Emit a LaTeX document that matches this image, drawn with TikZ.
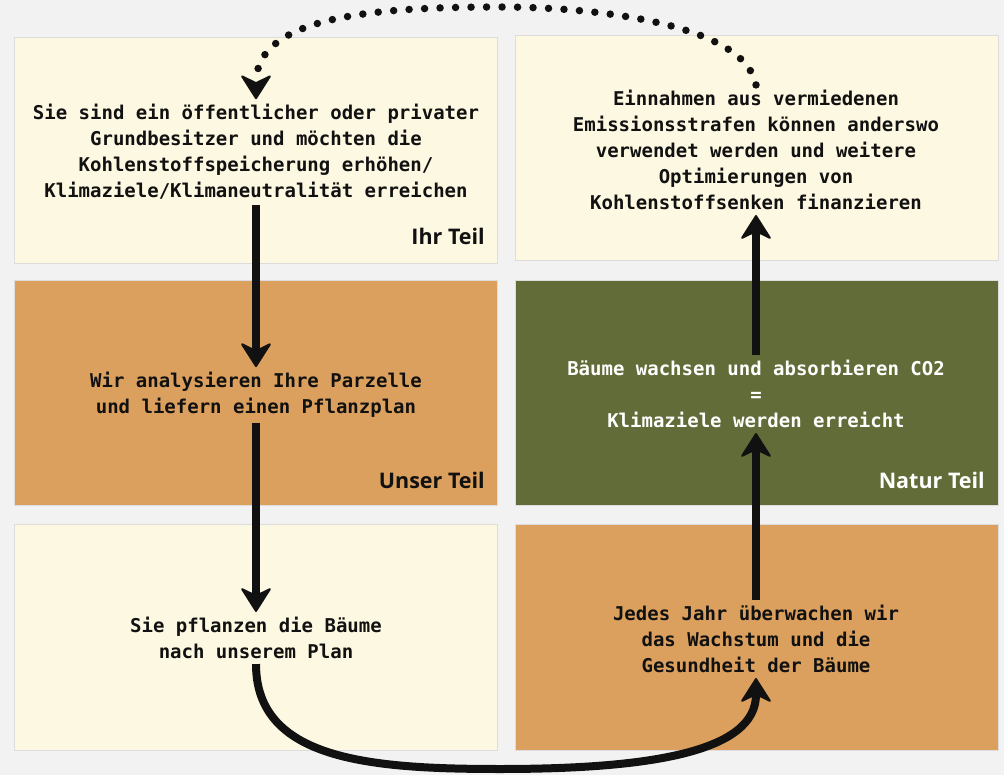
\documentclass[tikz,border=0pt]{standalone}
\usepackage{fontspec}
\setmonofont{DejaVu Sans Mono}
\newfontfamily\lblfont{Open Sans}
\usetikzlibrary{arrows.meta}
\definecolor{bg}{HTML}{F2F2F2}
\definecolor{cream}{HTML}{FDF8E1}
\definecolor{ochre}{HTML}{DBA05E}
\definecolor{olive}{HTML}{626C38}
\definecolor{edge}{HTML}{DDDDDD}
\definecolor{ink}{HTML}{111111}
\tikzset{
  panel/.style={rectangle, draw=edge, line width=0.8pt, inner sep=0pt, outer sep=0pt, minimum width=483pt},
  txt/.style={align=center, font=\ttfamily\bfseries\fontsize{19}{26}\selectfont, inner sep=5pt, text=ink},
  lbl/.style={anchor=base east, inner sep=0pt, font=\lblfont\bfseries\fontsize{21.5}{26}\selectfont, text=ink},
  flow/.style={draw=ink, line width=8pt, -{Stealth[length=26pt,width=33pt,inset=8pt,line width=2pt,round]}},
  dotflow/.style={draw=ink, line width=7.5pt, line cap=round, dash pattern=on 0pt off 15.5pt, -{Stealth[length=26pt,width=33pt,inset=8pt,line width=2pt,round]}}
}
\begin{document}
\begin{tikzpicture}[x=1pt, y=-1pt]
\useasboundingbox (0,0) rectangle (1004,775);
\fill[bg] (0,0) rectangle (1004,775);

% panels
\node[panel, fill=cream, minimum height=226pt] (b1) at (255.5,150) {};
\node[panel, fill=ochre, minimum height=225pt] (b2) at (255.5,392.5) {};
\node[panel, fill=cream, minimum height=226pt] (b3) at (255.5,637) {};
\node[panel, fill=cream, minimum height=225pt] (b4) at (756.5,147.5) {};
\node[panel, fill=olive, minimum height=225pt] (b5) at (756.5,392.5) {};
\node[panel, fill=ochre, minimum height=226pt] (b6) at (756.5,637) {};

% texts
\node[txt] (t1) at (256,152) {Sie sind ein öffentlicher oder privater\\Grundbesitzer und möchten die\\Kohlenstoffspeicherung erhöhen/\\Klimaziele/Klimaneutralität erreichen};
\node[txt] (t2) at (256,395) {Wir analysieren Ihre Parzelle\\und liefern einen Pflanzplan};
\node[txt] (t3) at (256,638) {Sie pflanzen die Bäume\\nach unserem Plan};
\node[txt] (t4) at (756,150) {Einnahmen aus vermiedenen\\Emissionsstrafen können anderswo\\verwendet werden und weitere\\Optimierungen von\\Kohlenstoffsenken finanzieren};
\node[txt, text=white] (t5) at (756,394) {Bäume wachsen und absorbieren CO2\\=\\Klimaziele werden erreicht};
\node[txt] (t6) at (756,639) {Jedes Jahr überwachen wir\\das Wachstum und die\\Gesundheit der Bäume};

% labels
\node[lbl] (l1) at (485,245) {Ihr Teil};
\node[lbl] (l2) at (485,488) {Unser Teil};
\node[lbl, text=white] (l3) at (985,488) {Natur Teil};

% connectors
\draw[flow] (t1.south) -- (t2.north);
\draw[flow] (t2.south) -- (t3.north);
\draw[flow] (t3.south) .. controls (256,760) and (370,769) .. (500,769) .. controls (650,769) and (756,752) .. (t6.south);
\draw[flow] (t6.north) -- (t5.south);
\draw[flow] (t5.north) -- (t4.south);
\draw[dotflow] (t4.north) .. controls (745,25) and (600,7) .. (500,7) .. controls (380,7) and (256,15) .. (t1.north);
\end{tikzpicture}
\end{document}
